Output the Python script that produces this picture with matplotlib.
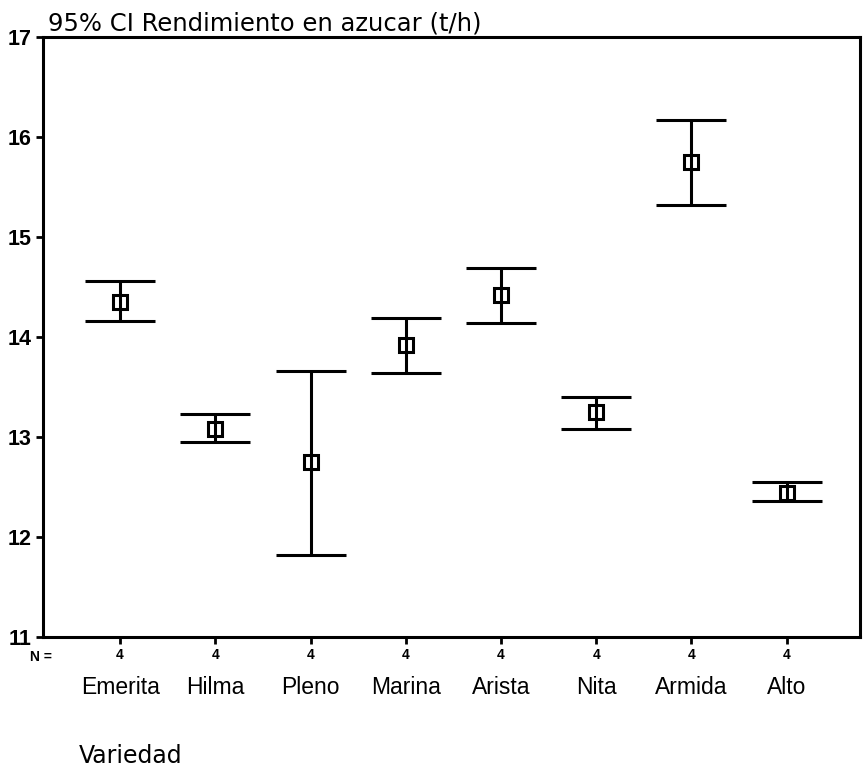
# Error bar chart: 95% CI of sugar yield per variety
import numpy as np
import matplotlib.pyplot as plt

# data
variedades = ['Emerita', 'Hilma', 'Pleno', 'Marina', 'Arista', 'Nita', 'Armida', 'Alto']
media = [14.35, 13.08, 12.75, 13.92, 14.42, 13.25, 15.75, 12.44]
ic_sup = [14.56, 13.23, 13.66, 14.19, 14.69, 13.40, 16.17, 12.55]
ic_inf = [14.16, 12.95, 11.82, 13.64, 14.14, 13.08, 15.32, 12.36]
n_casos = [4, 4, 4, 4, 4, 4, 4, 4]
yticks = [11, 12, 13, 14, 15, 16, 17]

x = np.arange(1, len(variedades) + 1)
media = np.array(media)
err = [media - np.array(ic_inf), np.array(ic_sup) - media]

fig = plt.figure(figsize=(8.63, 7.67), dpi=100)
ax = fig.add_axes([0.0498, 0.1695, 0.9467, 0.7823])

ax.errorbar(x, media, yerr=err, fmt='s', color='black', ecolor='black',
            elinewidth=2.2, capsize=25, capthick=2.4,
            markersize=10, mfc='none', mec='black', mew=2.2)

ax.set_xlim(0.19, 8.77)
ax.set_ylim(11, 17)
ax.set_yticks(yticks)
ax.set_yticklabels([str(t) for t in yticks], fontsize=15.5, fontweight='bold',
                   family='Liberation Sans')
ax.set_xticks(x)
ax.set_xticklabels([str(n) for n in n_casos], fontsize=10, fontweight='bold',
                   family='Liberation Sans')
ax.tick_params(axis='both', direction='out', length=5, width=2, pad=3)

for s in ax.spines.values():
    s.set_linewidth(2.2)

# N = label and category names below the axis
ax.text(0.011, -0.033, 'N =', transform=ax.transAxes, ha='right', va='center',
        fontsize=10, fontweight='bold', family='Liberation Sans')
for xi, nombre in zip(x, variedades):
    ax.text(xi, -0.085, nombre, transform=ax.get_xaxis_transform(),
            ha='center', va='center', fontsize=16.5, family='Liberation Sans')

fig.text(48 / 863, 1 - 31 / 767, '95% CI Rendimiento en azucar (t/h)',
         ha='left', va='baseline', fontsize=17.5, family='DejaVu Sans')
fig.text(79 / 863, 1 - 763 / 767, 'Variedad', ha='left', va='baseline',
         fontsize=17, family='DejaVu Sans')

fig.savefig('out.png', dpi=100)
